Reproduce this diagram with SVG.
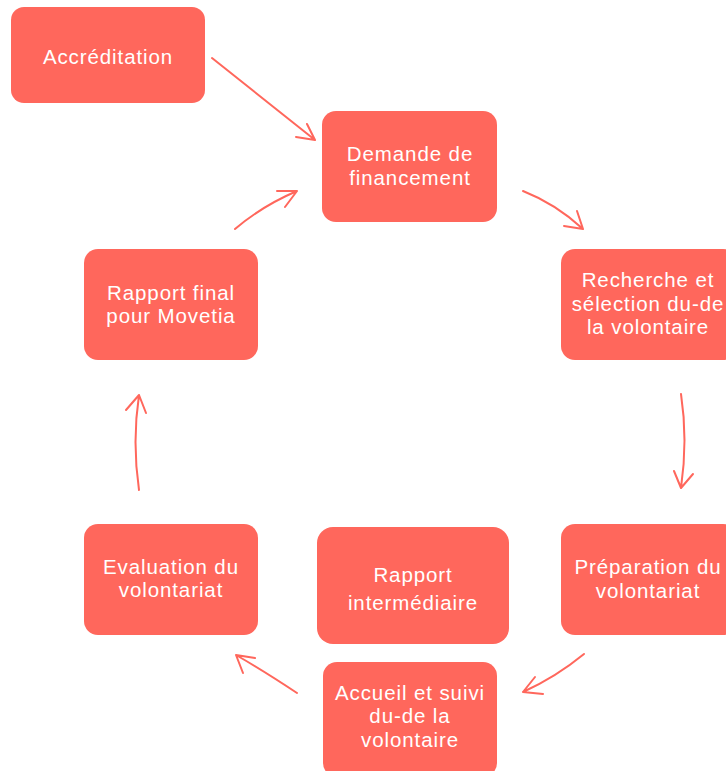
<svg xmlns="http://www.w3.org/2000/svg" width="726" height="771" viewBox="0 0 726 771">
<style>
.box{fill:#FF675C;}
.lbl{font-family:"Liberation Sans",Arial,sans-serif;font-size:20.5px;fill:#FFFFFF;text-anchor:middle;letter-spacing:0.9px;}
.con{fill:none;stroke:#FF675C;stroke-width:2;stroke-linecap:round;stroke-linejoin:round;}
</style>
<rect width="726" height="771" fill="#FFFFFF"/>
<g id="accreditation"><rect class="box" x="11" y="7" width="194" height="96" rx="13"/><text class="lbl" x="108" y="64">Accréditation</text></g>
<g id="demande"><rect class="box" x="322" y="111" width="175" height="111" rx="14"/><text class="lbl" x="410" y="161">Demande de</text><text class="lbl" x="410" y="185">financement</text></g>
<g id="recherche"><rect class="box" x="561" y="249" width="176" height="111" rx="14"/><text class="lbl" x="648" y="287">Recherche et</text><text class="lbl" x="648" y="311">sélection du-de</text><text class="lbl" x="648" y="334">la volontaire</text></g>
<g id="preparation"><rect class="box" x="561" y="524" width="176" height="111" rx="14"/><text class="lbl" x="648" y="574">Préparation du</text><text class="lbl" x="648" y="598">volontariat</text></g>
<g id="accueil"><rect class="box" x="323" y="662" width="174" height="115" rx="14"/><text class="lbl" x="410" y="700">Accueil et suivi</text><text class="lbl" x="410" y="723">du-de la</text><text class="lbl" x="410" y="747">volontaire</text></g>
<g id="intermediaire"><rect class="box" x="317" y="527" width="192" height="117" rx="16"/><text class="lbl" x="413" y="582">Rapport</text><text class="lbl" x="413" y="610">intermédiaire</text></g>
<g id="evaluation"><rect class="box" x="84" y="524" width="174" height="111" rx="14"/><text class="lbl" x="171" y="574">Evaluation du</text><text class="lbl" x="171" y="597">volontariat</text></g>
<g id="rapportfinal"><rect class="box" x="84" y="249" width="174" height="111" rx="14"/><text class="lbl" x="171" y="300">Rapport final</text><text class="lbl" x="171" y="323">pour Movetia</text></g>
<g id="connectors">
<path class="con" d="M212,58 L315,140 M296,137 L315,140 L307,124"/>
<path class="con" d="M235,229 Q262,206 297,191 M277,191 L297,191 L285,207"/>
<path class="con" d="M523,191 Q556,204 583,229 M564,226 L583,229 L577,211"/>
<path class="con" d="M681,394 Q688,440 681,488 M674,471 L681,488 L693,474"/>
<path class="con" d="M584,654 Q556,677 523,692 M543,694 L523,692 L535,677"/>
<path class="con" d="M297,693 Q264,671 236,655 M255,658 L236,655 L243,673"/>
<path class="con" d="M139,490 Q132,442 139,395 M126,410 L139,395 L146,413"/>
</g>
</svg>
